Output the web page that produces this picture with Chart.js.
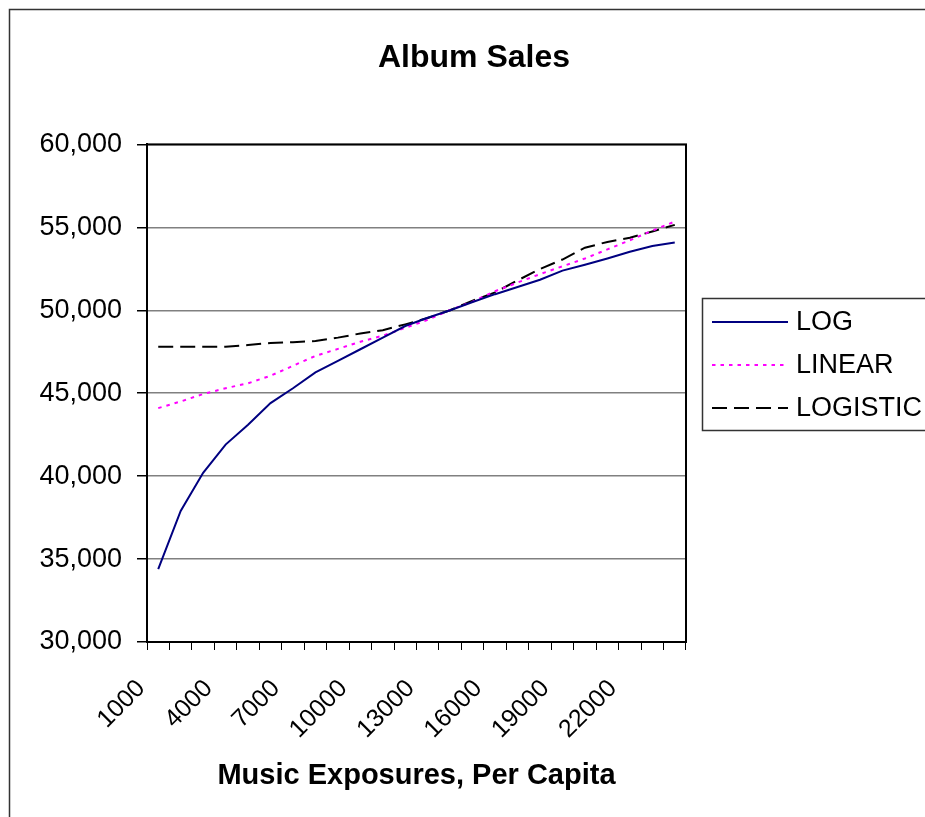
<!DOCTYPE html>
<html>
<head>
<meta charset="utf-8">
<script src="https://cdn.jsdelivr.net/npm/chart.js@4.4.1/dist/chart.umd.min.js"></script>
<style>
  html, body { margin: 0; padding: 0; background: #fff; }
  canvas { display: block; }
</style>
</head>
<body>
<canvas id="chart" width="925" height="817"></canvas>
<script>
// music exposures per capita (x categories)
const exposures = [1000, 2000, 3000, 4000, 5000, 6000, 7000, 8000, 9000, 10000, 11000, 12000,
                   13000, 14000, 15000, 16000, 17000, 18000, 19000, 20000, 21000, 22000, 23000, 24000];

const logSales = [34400, 37900, 40200, 41900, 43100, 44400, 45300, 46250, 46950, 47650, 48350, 49050,
                  49550, 50000, 50500, 50970, 51400, 51840, 52390, 52740, 53120, 53530, 53880, 54080];
const linearSales = [44100, 44500, 44950, 45300, 45600, 46050, 46650, 47250, 47670, 48100, 48470, 48940,
                     49420, 50020, 50520, 51150, 51670, 52180, 52650, 53120, 53670, 54220, 54800, 55350];
const logisticSales = [47800, 47800, 47800, 47800, 47900, 48030, 48070, 48150, 48350, 48600, 48800, 49150,
                       49530, 50000, 50580, 51080, 51800, 52490, 53060, 53770, 54120, 54370, 54750, 55150];

const yMin = 30000, yMax = 60000, yStep = 5000;

const FONT = "'Liberation Sans', Arial, sans-serif";

// outer frame, plot border and boxed legend
const excelLook = {
  id: 'excelLook',
  beforeDraw(chart) {
    const ctx = chart.ctx;
    ctx.save();
    ctx.fillStyle = '#fff';
    ctx.fillRect(0, 0, chart.width, chart.height);
    ctx.strokeStyle = '#333';
    ctx.lineWidth = 1.5;
    ctx.beginPath();
    ctx.moveTo(9.5, chart.height);
    ctx.lineTo(9.5, 9.5);
    ctx.lineTo(chart.width, 9.5);
    ctx.stroke();
    ctx.restore();
  },
  afterDraw(chart) {
    const ctx = chart.ctx, a = chart.chartArea;
    ctx.save();
    ctx.strokeStyle = '#000';
    ctx.lineWidth = 2;
    ctx.strokeRect(a.left, a.top, a.right - a.left, a.bottom - a.top);

    // legend box
    const bx = 702, by = 298, bh = 132;
    ctx.lineWidth = 1.5;
    ctx.strokeStyle = '#333';
    ctx.strokeRect(bx + 0.5, by + 0.5, chart.width - bx + 10, bh);
    ctx.font = '27px ' + FONT;
    ctx.textBaseline = 'middle';
    ctx.fillStyle = '#000';
    chart.data.datasets.forEach((ds, i) => {
      const y = by + 24 + i * 43;
      ctx.strokeStyle = ds.borderColor;
      ctx.lineWidth = ds.borderWidth;
      ctx.setLineDash(ds.borderDash || []);
      ctx.beginPath();
      ctx.moveTo(bx + 10, y);
      ctx.lineTo(bx + 86, y);
      ctx.stroke();
      ctx.setLineDash([]);
      ctx.fillText(ds.label, bx + 94, y + 1);
    });
    ctx.restore();
  }
};

new Chart(document.getElementById('chart'), {
  type: 'line',
  data: {
    labels: exposures,
    datasets: [
      { label: 'LOG', data: logSales, borderColor: '#000080', borderWidth: 2, pointRadius: 0, tension: 0 },
      { label: 'LINEAR', data: linearSales, borderColor: '#ff00ff', borderWidth: 2, borderDash: [3.5, 5], pointRadius: 0, tension: 0 },
      { label: 'LOGISTIC', data: logisticSales, borderColor: '#000', borderWidth: 2, borderDash: [15, 7], pointRadius: 0, tension: 0 }
    ]
  },
  options: {
    responsive: false,
    animation: false,
    layout: { padding: { left: 23, right: 0, top: 0, bottom: 0 } },
    plugins: {
      legend: { display: false },
      tooltip: { enabled: false },
      title: {
        display: true,
        text: 'Album Sales',
        color: '#000',
        font: { family: FONT, size: 32, weight: 'bold' },
        padding: { top: 39, bottom: 67 }
      }
    },
    scales: {
      x: {
        offset: true,
        grid: { offset: true, drawOnChartArea: false, drawTicks: true, tickLength: 8, tickColor: '#000', lineWidth: 1 },
        border: { color: '#000', width: 2 },
        ticks: {
          autoSkip: false,
          maxRotation: 45,
          minRotation: 45,
          padding: 24,
          labelOffset: -17,
          color: '#000',
          font: { family: FONT, size: 25 },
          callback: function (v, i) { return i % 3 === 0 ? this.getLabelForValue(v) : ''; }
        },
        title: {
          display: true,
          text: 'Music Exposures, Per Capita',
          color: '#000',
          font: { family: FONT, size: 29, weight: 'bold' },
          padding: { top: 0, bottom: 24 }
        },
        afterFit(scale) { scale.height = 175; }
      },
      y: {
        min: yMin,
        max: yMax,
        grid: { color: '#808080', lineWidth: 1.5, tickLength: 10, tickColor: '#000' },
        border: { color: '#000', width: 2 },
        ticks: {
          stepSize: yStep,
          padding: 15,
          color: '#000',
          font: { family: FONT, size: 27 },
          callback: v => v.toLocaleString('en-US')
        },
        afterFit(scale) { scale.width = 124; }
      },
      // empty right-hand space reserved for the legend
      legendSpace: {
        position: 'right',
        grid: { display: false },
        border: { display: false },
        ticks: { display: false },
        afterFit(scale) { scale.width = 239; }
      }
    }
  },
  plugins: [excelLook]
});
</script>
</body>
</html>
